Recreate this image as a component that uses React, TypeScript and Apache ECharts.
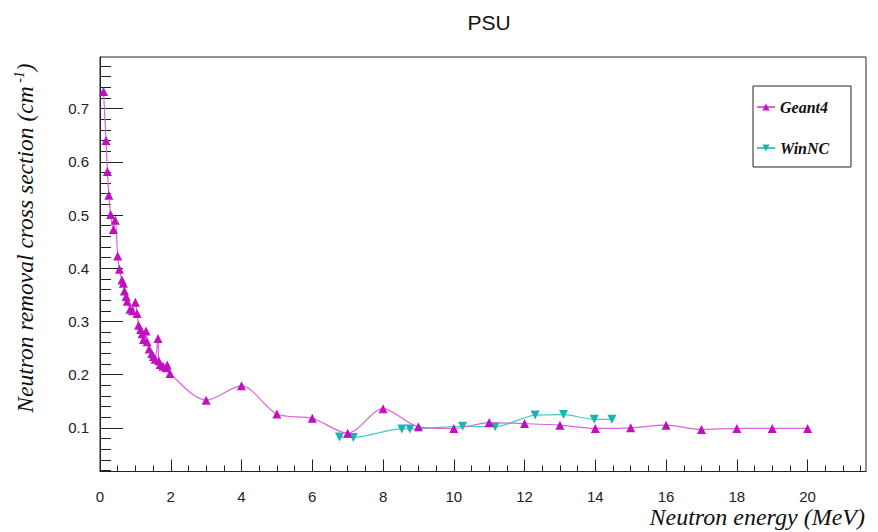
import React, { useEffect, useRef } from "react";
import * as echarts from "echarts";

// ---- data ----
const geant4X = [0.10, 0.17, 0.21, 0.25, 0.30, 0.38, 0.43, 0.50, 0.55, 0.62, 0.66, 0.69, 0.74, 0.77, 0.85, 0.92, 1.00, 1.05, 1.09, 1.15, 1.19, 1.23, 1.30, 1.33, 1.39, 1.46, 1.51, 1.56, 1.64, 1.66, 1.70, 1.78, 1.87, 1.90, 1.98, 3.0, 4.0, 5.0, 6.0, 7.0, 8.0, 9.0, 10.0, 11.0, 12.0, 13.0, 14.0, 15.0, 16.0, 17.0, 18.0, 19.0, 20.0];
const geant4Y = [0.732, 0.640, 0.582, 0.537, 0.501, 0.473, 0.490, 0.423, 0.398, 0.378, 0.372, 0.357, 0.347, 0.338, 0.323, 0.320, 0.336, 0.315, 0.293, 0.285, 0.277, 0.266, 0.282, 0.262, 0.248, 0.240, 0.234, 0.229, 0.268, 0.226, 0.219, 0.216, 0.213, 0.218, 0.202, 0.152, 0.179, 0.126, 0.118, 0.090, 0.136, 0.102, 0.099, 0.110, 0.108, 0.105, 0.099, 0.100, 0.105, 0.097, 0.099, 0.099, 0.099];

const winncX = [6.77, 7.16, 8.53, 8.76, 10.25, 11.17, 12.3, 13.1, 13.97, 14.47];
const winncY = [0.083, 0.082, 0.098, 0.098, 0.103, 0.102, 0.124, 0.125, 0.116, 0.116];

const xTickLabels = [0, 2, 4, 6, 8, 10, 12, 14, 16, 18, 20];
const yTickLabels = [0.1, 0.2, 0.3, 0.4, 0.5, 0.6, 0.7];

const X_MIN = 0;
const X_MAX = 21.65;
const Y_MIN = 0.018;
const Y_MAX = 0.797;

const xMinor: number[] = [];
for (let i = 1; i <= 43; i++) if (i % 4 !== 0) xMinor.push(i * 0.5);
const yMinor: number[] = [];
for (let i = 1; i <= 39; i++) if (i % 5 !== 0) yMinor.push(+(i * 0.02).toFixed(2));

const G4_MARK = "#c010c0";
const G4_LINE = "#d865d8";
const WN_MARK = "#1fb0b0";
const WN_LINE = "#45c8c8";
const AX = "#222";

export default function App() {
  const ref = useRef<HTMLDivElement>(null);
  useEffect(() => {
    if (!ref.current) return;
    const chart = echarts.init(ref.current, undefined, { renderer: "svg" });
    const labelFont = { fontFamily: "Liberation Sans", fontSize: 15, color: AX };
    const serifItalic = "Liberation Serif";
    chart.setOption({
      animation: false,
      backgroundColor: "#fff",
      grid: {
        left: 100,
        top: 57,
        width: 766,
        height: 414.5,
        show: true,
        borderColor: AX,
        borderWidth: 1,
        backgroundColor: "transparent",
      },
      xAxis: [
        {
          type: "value",
          min: X_MIN,
          max: X_MAX,
          axisLine: { show: true, lineStyle: { color: AX, width: 1 } },
          axisTick: { show: true, inside: true, length: 12, customValues: xTickLabels, lineStyle: { color: AX } },
          axisLabel: { show: true, customValues: xTickLabels, margin: 17, ...labelFont },
          splitLine: { show: false },
        },
        {
          type: "value",
          min: X_MIN,
          max: X_MAX,
          position: "bottom",
          axisLine: { show: false },
          axisTick: { show: true, inside: true, length: 6, customValues: xMinor, lineStyle: { color: AX } },
          axisLabel: { show: false },
          splitLine: { show: false },
        },
      ],
      yAxis: [
        {
          type: "value",
          min: Y_MIN,
          max: Y_MAX,
          axisLine: { show: true, lineStyle: { color: AX, width: 1 } },
          axisTick: { show: true, inside: true, length: 23, customValues: yTickLabels, lineStyle: { color: AX } },
          axisLabel: { show: true, customValues: yTickLabels, margin: 11, ...labelFont },
          splitLine: { show: false },
        },
        {
          type: "value",
          min: Y_MIN,
          max: Y_MAX,
          position: "left",
          axisLine: { show: false },
          axisTick: { show: true, inside: true, length: 11, customValues: yMinor, lineStyle: { color: AX } },
          axisLabel: { show: false },
          splitLine: { show: false },
        },
      ],
      legend: {
        data: ["Geant4", "WinNC"],
        orient: "vertical",
        left: 756,
        top: 98,
        itemWidth: 18,
        itemHeight: 9,
        itemGap: 23,
        padding: 0,
        textStyle: {
          fontFamily: serifItalic,
          fontStyle: "italic",
          fontWeight: "bold",
          fontSize: 16,
          lineHeight: 18,
          color: "#111",
        },
      },
      graphic: [
        {
          type: "rect",
          shape: { x: 753, y: 86, width: 98, height: 81 },
          style: { fill: "none", stroke: AX, lineWidth: 1 },
        },
        {
          type: "text",
          x: 489,
          y: 22,
          style: { text: "PSU", fontFamily: "Liberation Sans", fontSize: 21, fill: "#111", align: "center", verticalAlign: "middle" },
        },
        {
          type: "text",
          x: 865,
          y: 517,
          style: { text: "Neutron energy (MeV)", fontFamily: serifItalic, fontStyle: "italic", fontSize: 24, fill: "#111", align: "right", verticalAlign: "middle" },
        },
        {
          type: "text",
          x: 25,
          y: 238,
          rotation: Math.PI / 2,
          style: {
            text: "Neutron removal cross section (cm{s| -1})",
            fontFamily: serifItalic,
            fontStyle: "italic",
            fontSize: 23.5,
            lineHeight: 26,
            fill: "#111",
            align: "center",
            verticalAlign: "middle",
            rich: {
              s: { fontFamily: serifItalic, fontStyle: "italic", fontSize: 14, lineHeight: 14, verticalAlign: "top", fill: "#111" },
            },
          },
        },
      ],
      series: [
        {
          name: "Geant4",
          type: "line",
          data: geant4X.map((x, i) => [x, geant4Y[i]]),
          smooth: 0.3,
          symbol: "triangle",
          symbolSize: 9,
          itemStyle: { color: G4_MARK },
          lineStyle: { color: G4_LINE, width: 1.2 },
          z: 3,
        },
        {
          name: "WinNC",
          type: "line",
          data: winncX.map((x, i) => [x, winncY[i]]),
          smooth: 0.3,
          symbol: "triangle",
          symbolRotate: 180,
          symbolSize: 9,
          itemStyle: { color: WN_MARK },
          lineStyle: { color: WN_LINE, width: 1.2 },
          z: 2,
        },
      ],
    });
    return () => chart.dispose();
  }, []);
  return <div ref={ref} style={{ position: "fixed", left: 0, top: 0, width: 878, height: 532 }} />;
}
